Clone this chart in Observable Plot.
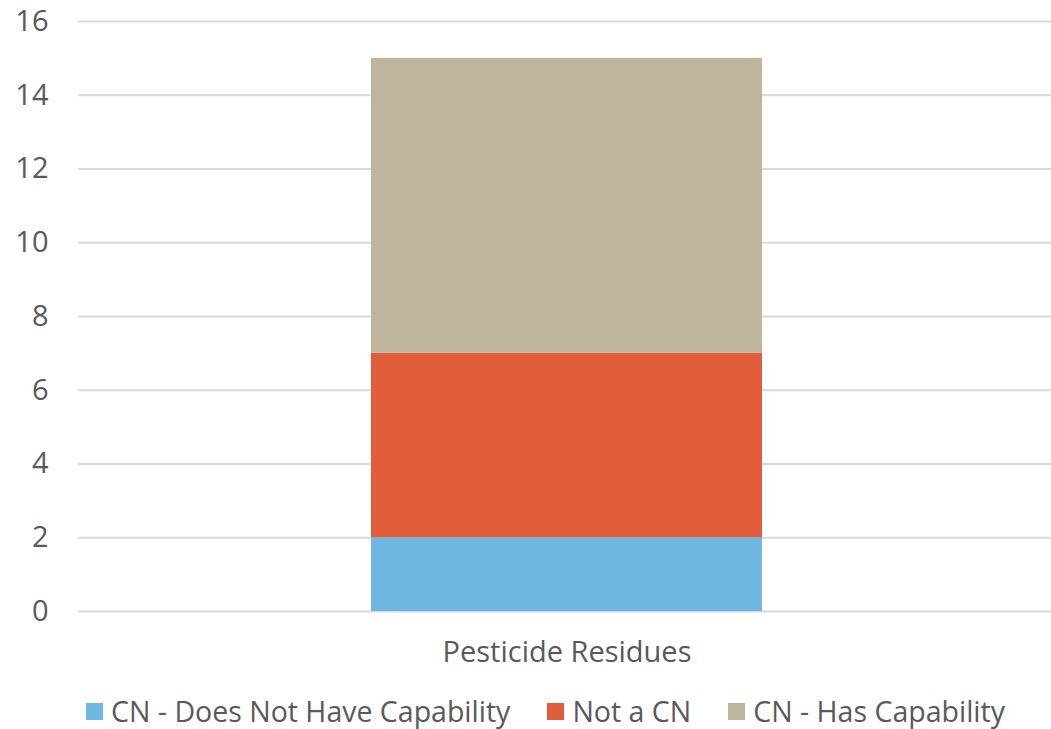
<!DOCTYPE html>
<html>
<head>
<meta charset="utf-8">
<script src="https://cdn.jsdelivr.net/npm/d3@7"></script>
<script src="https://cdn.jsdelivr.net/npm/@observablehq/plot@0.6"></script>
<style>
  html, body { margin: 0; padding: 0; background: #fff; }
  body { width: 1051px; height: 729px; overflow: hidden; font-family: "Open Sans", sans-serif; }
  #chart { height: 680px; }
  #legend { display: flex; align-items: center; height: 34px; line-height: 34px; margin-top: 14px; margin-left: 86px; font-size: 28.5px; color: #595959; white-space: nowrap; }
  #legend .item { display: flex; align-items: center; margin-right: 37px; }
  #legend .sw { width: 17px; height: 17px; margin-right: 8px; }
</style>
</head>
<body>
<div id="chart"></div>
<div id="legend"></div>
<script>
const categories = ["Pesticide Residues"];
const seriesNames = ["CN - Does Not Have Capability", "Not a CN", "CN - Has Capability"];
const seriesValues = [[2], [5], [8]];
const seriesColors = ["#6FB7E3", "#E15D3A", "#BEB59D"];
const yTicks = [0, 2, 4, 6, 8, 10, 12, 14, 16];

const data = [];
seriesNames.forEach((s, i) => categories.forEach((c, j) => data.push({category: c, series: s, value: seriesValues[i][j]})));

const chart = Plot.plot({
  width: 1051,
  height: 680,
  marginTop: 21,
  marginBottom: 69,
  marginLeft: 78,
  marginRight: 0,
  style: {fontFamily: "'Open Sans', sans-serif", fontSize: "29px", color: "#595959", background: "#fff", display: "block"},
  x: {domain: categories, range: [84, 1050], padding: 0.4227, label: null},
  y: {domain: [0, 16], ticks: yTicks, label: null},
  color: {domain: seriesNames, range: seriesColors},
  marks: [
    Plot.gridY(yTicks, {stroke: "#d9d9d9", strokeOpacity: 1, strokeWidth: 2}),
    Plot.barY(data, Plot.stackY({x: "category", y: "value", fill: "series", order: seriesNames})),
    Plot.axisY(yTicks, {tickSize: 0, tickPadding: 30, fill: "#595959", fontSize: 29, label: null}),
    Plot.axisX({tickSize: 0, tickPadding: 30, fill: "#595959", fontSize: 29, label: null})
  ]
});
document.getElementById("chart").appendChild(chart);

const legend = document.getElementById("legend");
seriesNames.forEach((s, i) => {
  const item = document.createElement("div");
  item.className = "item";
  const sw = document.createElement("div");
  sw.className = "sw";
  sw.style.background = seriesColors[i];
  const t = document.createElement("span");
  t.textContent = s;
  item.appendChild(sw);
  item.appendChild(t);
  legend.appendChild(item);
});
</script>
</body>
</html>
